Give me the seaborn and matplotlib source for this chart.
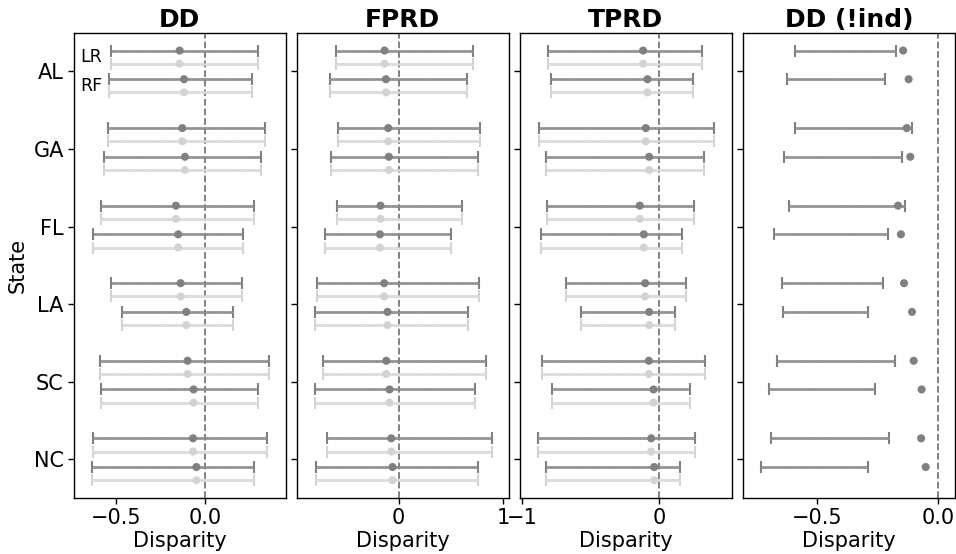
import numpy as np
import pandas as pd
import matplotlib
matplotlib.use("Agg")
import matplotlib.pyplot as plt
import matplotlib.transforms as mtransforms
import seaborn as sns

sns.set_style("white")
plt.rcParams["font.family"] = ["DejaVu Sans"]
plt.rcParams.update({"text.color": "black", "axes.labelcolor": "black",
                     "xtick.color": "black", "ytick.color": "black"})

states = ["AL", "GA", "FL", "LA", "SC", "NC"]
models = ["LR", "RF"]
panel_titles = ["DD", "FPRD", "TPRD", "DD (!ind)"]

# per (state, model) pairs, state-major: AL-LR, AL-RF, GA-LR, ...
dd_point = [-0.142, -0.117, -0.127, -0.112, -0.163, -0.150, -0.136, -0.104, -0.097, -0.063, -0.066, -0.047]
dd_lower = [-0.530, -0.540, -0.549, -0.570, -0.589, -0.633, -0.532, -0.466, -0.591, -0.585, -0.633, -0.640]
dd_upper = [0.299, 0.267, 0.341, 0.318, 0.277, 0.218, 0.210, 0.163, 0.364, 0.299, 0.354, 0.280]

fprd_point = [-0.134, -0.121, -0.099, -0.093, -0.173, -0.179, -0.138, -0.106, -0.118, -0.087, -0.070, -0.058]
fprd_lower = [-0.602, -0.660, -0.583, -0.650, -0.593, -0.705, -0.785, -0.798, -0.727, -0.804, -0.683, -0.791]
fprd_upper = [0.715, 0.657, 0.779, 0.757, 0.606, 0.507, 0.773, 0.661, 0.837, 0.731, 0.891, 0.763]

tprd_point = [-0.117, -0.085, -0.097, -0.073, -0.141, -0.112, -0.102, -0.073, -0.075, -0.041, -0.058, -0.036]
tprd_lower = [-0.811, -0.787, -0.872, -0.825, -0.818, -0.862, -0.677, -0.566, -0.854, -0.784, -0.884, -0.825]
tprd_upper = [0.313, 0.245, 0.403, 0.330, 0.257, 0.168, 0.194, 0.119, 0.337, 0.226, 0.262, 0.155]

ddni_point = [-0.144, -0.121, -0.129, -0.114, -0.165, -0.153, -0.140, -0.107, -0.100, -0.067, -0.069, -0.050]
ddni_lower = [-0.595, -0.628, -0.592, -0.637, -0.620, -0.682, -0.648, -0.642, -0.670, -0.702, -0.691, -0.736]
ddni_upper = [-0.172, -0.218, -0.107, -0.150, -0.136, -0.207, -0.229, -0.290, -0.179, -0.261, -0.204, -0.291]

x_ticks = [[-0.5, 0.0], [0, 1], [-1, 0], [-0.5, 0.0]]
x_ticklabels = [["\u22120.5", "0.0"], ["0", "1"], ["\u22121", "0"], ["\u22120.5", "0.0"]]
x_limits = [(-0.743, 0.46), (-0.978, 1.058), (-1.017, 0.531), (-0.811, 0.072)]

# row offsets within a state band: (model, series) -> offset
row_offset = {("LR", "est"): -0.27, ("LR", "ref"): -0.10,
              ("RF", "est"): 0.10, ("RF", "ref"): 0.27}
series_color = {"est": "#808080", "ref": "#d3d3d3"}
series_texture = {"est": "#aaaaaa", "ref": "#e8e8e8"}


def build_frame(point, lower, upper, series_list):
    rows = []
    k = 0
    for si, st in enumerate(states):
        for m in models:
            for s in series_list:
                rows.append(dict(state=st, model=m, series=s,
                                 y=si + row_offset[(m, s)],
                                 point=point[k], lower=lower[k], upper=upper[k]))
            k += 1
    return pd.DataFrame(rows)


frames = [
    build_frame(dd_point, dd_lower, dd_upper, ["est", "ref"]),
    build_frame(fprd_point, fprd_lower, fprd_upper, ["est", "ref"]),
    build_frame(tprd_point, tprd_lower, tprd_upper, ["est", "ref"]),
    build_frame(ddni_point, ddni_lower, ddni_upper, ["est"]),
]

fig, axes = plt.subplots(1, 4, figsize=(9.56, 5.54), dpi=100, sharey=True)
fig.subplots_adjust(left=0.0769, right=0.999, top=0.941, bottom=0.101, wspace=0.05)

for i, (ax, df) in enumerate(zip(axes, frames)):
    ax.axvline(0, color="#777777", ls="--", lw=1.3, zorder=1)
    for s, sub in df.groupby("series"):
        mid = (sub["lower"] + sub["upper"]) / 2
        half = (sub["upper"] - sub["lower"]) / 2
        ax.errorbar(mid, sub["y"], xerr=half, fmt="none", ecolor=series_color[s],
                    elinewidth=1.8, capsize=4.3, capthick=1.5, zorder=2)
        ax.hlines(sub["y"], sub["lower"], sub["upper"], colors=series_texture[s],
                  lw=0.7, linestyles=(0, (1.2, 1.2)), zorder=2.5)
    sns.scatterplot(data=df, x="point", y="y", hue="series", palette=series_color,
                    s=34, edgecolor="none", legend=False, ax=ax, zorder=3)
    ax.set_xlim(*x_limits[i])
    ax.set_xticks(x_ticks[i])
    ax.set_xticklabels(x_ticklabels[i])
    ax.set_title(panel_titles[i], fontsize=18, fontweight="bold", pad=4)
    ax.set_xlabel("Disparity", fontsize=15, labelpad=2)
    ax.set_ylabel("")
    ax.tick_params(axis="both", which="both", direction="out", length=4,
                   width=1, labelsize=15, bottom=True, left=True, pad=3)
    for sp in ax.spines.values():
        sp.set_color("black")
        sp.set_linewidth(1.0)

axes[0].set_ylim(5.5, -0.5)
axes[0].set_yticks(range(len(states)))
axes[0].set_yticklabels(states)
axes[0].set_ylabel("State", fontsize=15, labelpad=4)
for ax in axes[1:]:
    ax.tick_params(axis="y", labelleft=False)

# model labels beside the first state's rows
trans = mtransforms.blended_transform_factory(axes[0].transAxes, axes[0].transData)
for m in models:
    yc = (row_offset[(m, "est")] + row_offset[(m, "ref")]) / 2
    axes[0].text(0.03, yc, m, transform=trans, fontsize=12.5, va="center", ha="left")

fig.savefig("out.png", dpi=100)
